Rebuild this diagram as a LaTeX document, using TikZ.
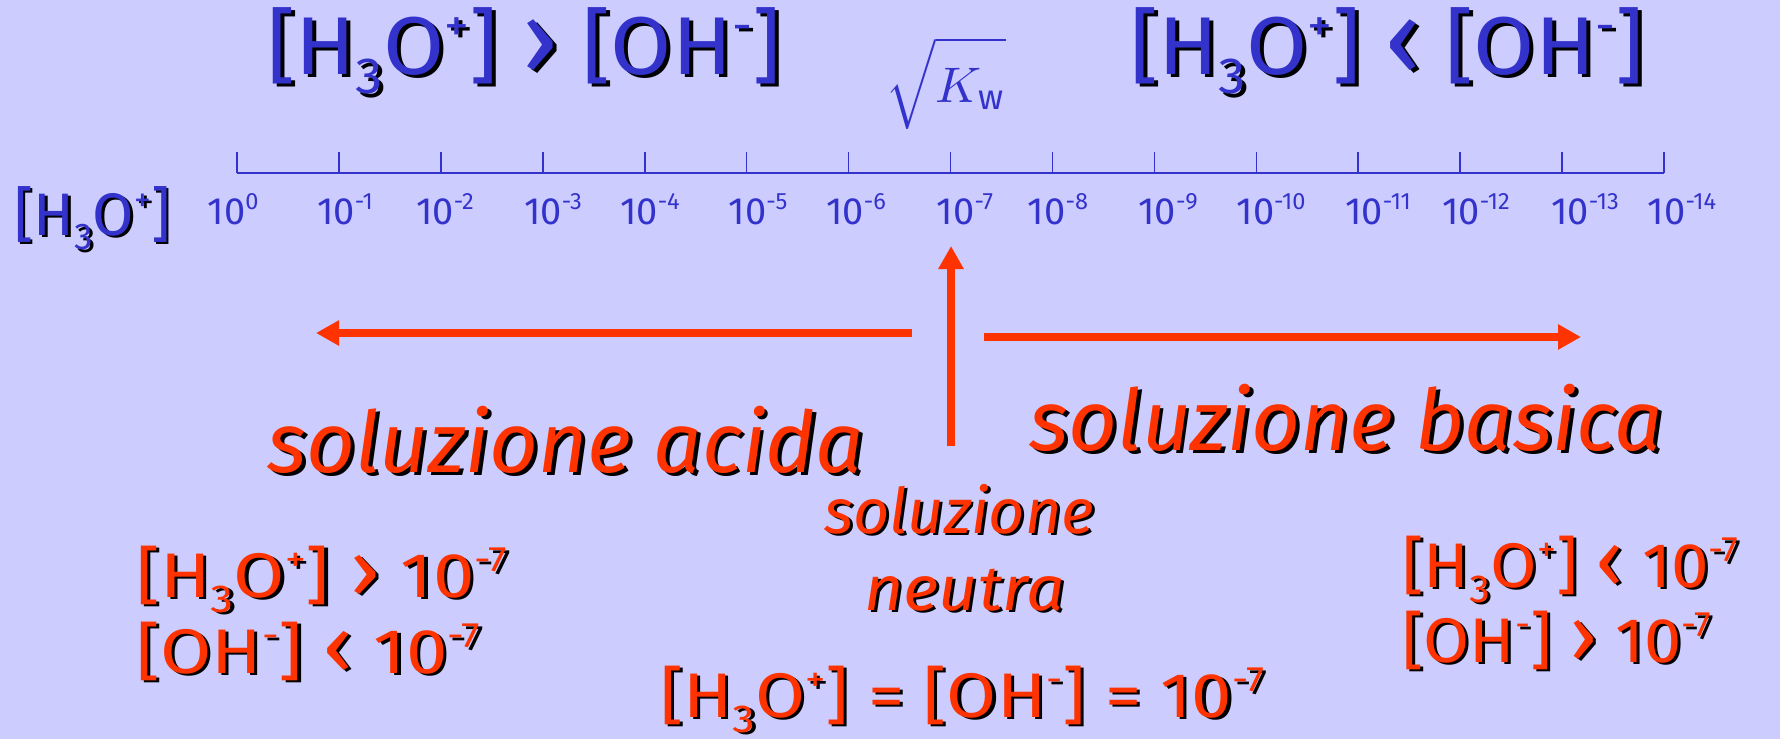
\documentclass[tikz,border=0pt]{standalone}
\usepackage{fontspec}
\usepackage{graphicx}
\setmainfont{Fira Sans}
\usetikzlibrary{arrows.meta}
\definecolor{bg}{HTML}{CCCCFF}
\definecolor{tblue}{HTML}{3333CC}
\definecolor{tred}{HTML}{FF3300}
\newcommand{\sbx}[1]{\raisebox{-0.24em}{\scalebox{0.62}{#1}}}
\newcommand{\spx}[1]{\raisebox{0.40em}{\scalebox{0.56}{#1}}}
\newcommand{\tspx}[1]{\raisebox{0.38em}{\scalebox{0.62}{#1}}}
\newcommand{\shd}[1]{\makebox[0pt][l]{\kern0.045em\raisebox{-0.045em}{\color{black}#1}}#1}
\newcommand{\HO}{[H\sbx{3}O\spx{+}]}
\newcommand{\OHm}{[OH\spx{-}]}
\newcommand{\tsev}{10\spx{-7}}
\newcommand{\gtx}{\scalebox{1.25}{›}}
\newcommand{\ltx}{\scalebox{1.25}{‹}}
\tikzset{
  ttl/.style={text=tblue, inner sep=0pt, anchor=base, font=\fontsize{82}{90}\selectfont},
  tick lbl/.style={text=tblue, inner sep=0pt, anchor=base, font=\fontsize{38}{40}\selectfont},
  cond/.style={text=tred, inner sep=0pt, anchor=base west, font=\fontsize{63}{70}\selectfont},
  big/.style={text=tred, inner sep=0pt, anchor=base west, font=\fontsize{85}{95}\selectfont\itshape},
  mid/.style={text=tred, inner sep=0pt, anchor=base west, font=\fontsize{63}{70}\selectfont\itshape},
  arr/.style={draw=tred, line width=7.5pt, -{Triangle[length=23pt,width=24pt]}},
  axisln/.style={draw=tblue, line width=2.5pt},
  tickln/.style={draw=tblue, line width=1.6pt}
}
\begin{document}
\begin{tikzpicture}[x=1pt,y=-1pt]
\fill[bg] (0,0) rectangle (1780,739);
\useasboundingbox (0,0) rectangle (1780,739);
% titles
\node[ttl] (tL) at (524,74) {\scalebox{1.08}[1]{\shd{\HO\ \gtx\ \OHm}}};
\node[ttl] (tR) at (1387,74) {\scalebox{1.08}[1]{\shd{\HO\ \ltx\ \OHm}}};
\node[text=tblue, inner sep=0pt, font=\fontsize{10}{12}\selectfont] (kw) at (946,83)
  {\scalebox{5}{$\sqrt{\rule[-3pt]{0pt}{12.5pt}K_{\mathrm{w}}}$}};
% axis
\draw[axisln] (237,173) -- (1664,173);
\foreach \i in {0,...,14} { \draw[tickln] ({237+\i*101.93},152) -- ({237+\i*101.93},173); }
\node[text=tblue, inner sep=0pt, anchor=base west, font=\fontsize{60}{70}\selectfont] (hl) at (14,235) {\shd{\HO}};
\foreach \x/\e [count=\k] in {233/0,345/-1,445/-2,553/-3,650/-4,758/-5,856/-6,965/-7,1058/-8,1168/-9,1271/-10,1378/-11,1476/-12,1585/-13,1682/-14}
  { \node[tick lbl] (lab\k) at (\x,224) {10\tspx{\e}}; }
% arrows
\coordinate (la1) at (912,333); \coordinate (la2) at (316,333);
\coordinate (ra1) at (984,337); \coordinate (ra2) at (1581,337);
\coordinate (ua1) at (951,446); \coordinate (ua2) at (951,246);
\draw[arr] (la1) -- (la2);
\draw[arr] (ra1) -- (ra2);
\draw[arr] (ua1) -- (ua2);
% red texts
\node[big] (acida) at (267,472) {\shd{soluzione acida}};
\node[big] (basica) at (1029,450) {\shd{soluzione basica}};
\node[mid] (neu1) at (824,533) {\shd{soluzione}};
\node[mid] (neu2) at (864,610) {\scalebox{1.08}[1]{\shd{neutra}}};
\node[cond] (cl1) at (136,597) {\scalebox{1.18}[1]{\shd{\HO\ \gtx\ \tsev}}};
\node[cond] (cl2) at (136,673) {\scalebox{1.18}[1]{\shd{\OHm\ \ltx\ \tsev}}};
\node[cond] (cr1) at (1402,587) {\scalebox{1.07}[1]{\shd{\HO\ \ltx\ \tsev}}};
\node[cond] (cr2) at (1402,662) {\scalebox{1.06}[1]{\shd{\OHm\ \gtx\ \tsev}}};
\node[cond] (cb) at (660,717) {\scalebox{1.15}[1]{\shd{\HO\ = \OHm\ = \tsev}}};
\end{tikzpicture}
\end{document}
